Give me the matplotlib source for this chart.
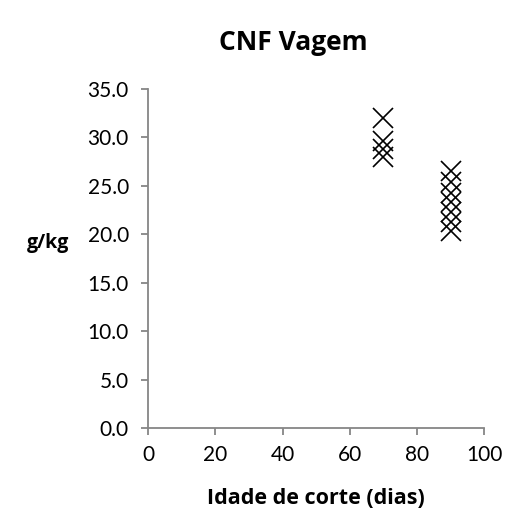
import matplotlib.pyplot as plt

plt.rcParams['font.family'] = ['Lato', 'DejaVu Sans']

# idade de corte (dias) e CNF da vagem (g/kg)
idade_70 = [70, 70, 70, 70]
cnf_70 = [32.0, 29.6, 28.8, 28.0]
idade_90 = [90, 90, 90, 90, 90, 90, 90]
cnf_90 = [26.5, 25.4, 24.3, 23.3, 22.3, 21.3, 20.3]

y_ticks = [0, 5, 10, 15, 20, 25, 30, 35]
x_ticks = [0, 20, 40, 60, 80, 100]

fig = plt.figure(figsize=(5.08, 5.17), dpi=100)
ax = fig.add_axes([0.292, 0.172, 0.661, 0.656])

ax.plot(idade_70 + idade_90, cnf_70 + cnf_90, linestyle='none', marker='x',
        markersize=14.5, markeredgewidth=1.2, color='black', clip_on=False)

ax.set_xlim(0, 100)
ax.set_ylim(0, 35)
ax.set_xticks(x_ticks)
ax.set_yticks(y_ticks)
ax.set_yticklabels([f'{v:.1f}' for v in y_ticks])

for side in ['top', 'right']:
    ax.spines[side].set_visible(False)
for side in ['left', 'bottom']:
    ax.spines[side].set_color('#868686')
    ax.spines[side].set_linewidth(1.3)
ax.tick_params(colors='#868686', labelcolor='black', labelsize=15,
               length=5, width=1.3, direction='out')
ax.tick_params(axis='x', pad=7)
ax.tick_params(axis='y', pad=9)

bold = ['Open Sans', 'DejaVu Sans']
fig.text(0.578, 0.918, 'CNF Vagem', ha='center', va='center',
         fontsize=19, fontweight='bold', family=bold)
fig.text(0.095, 0.53, 'g/kg', ha='center', va='center',
         fontsize=14, fontweight='bold', family=bold)
fig.text(0.622, 0.035, 'Idade de corte (dias)', ha='center', va='center',
         fontsize=15.5, fontweight='bold', family=bold)

plt.savefig('out.png', dpi=100)
